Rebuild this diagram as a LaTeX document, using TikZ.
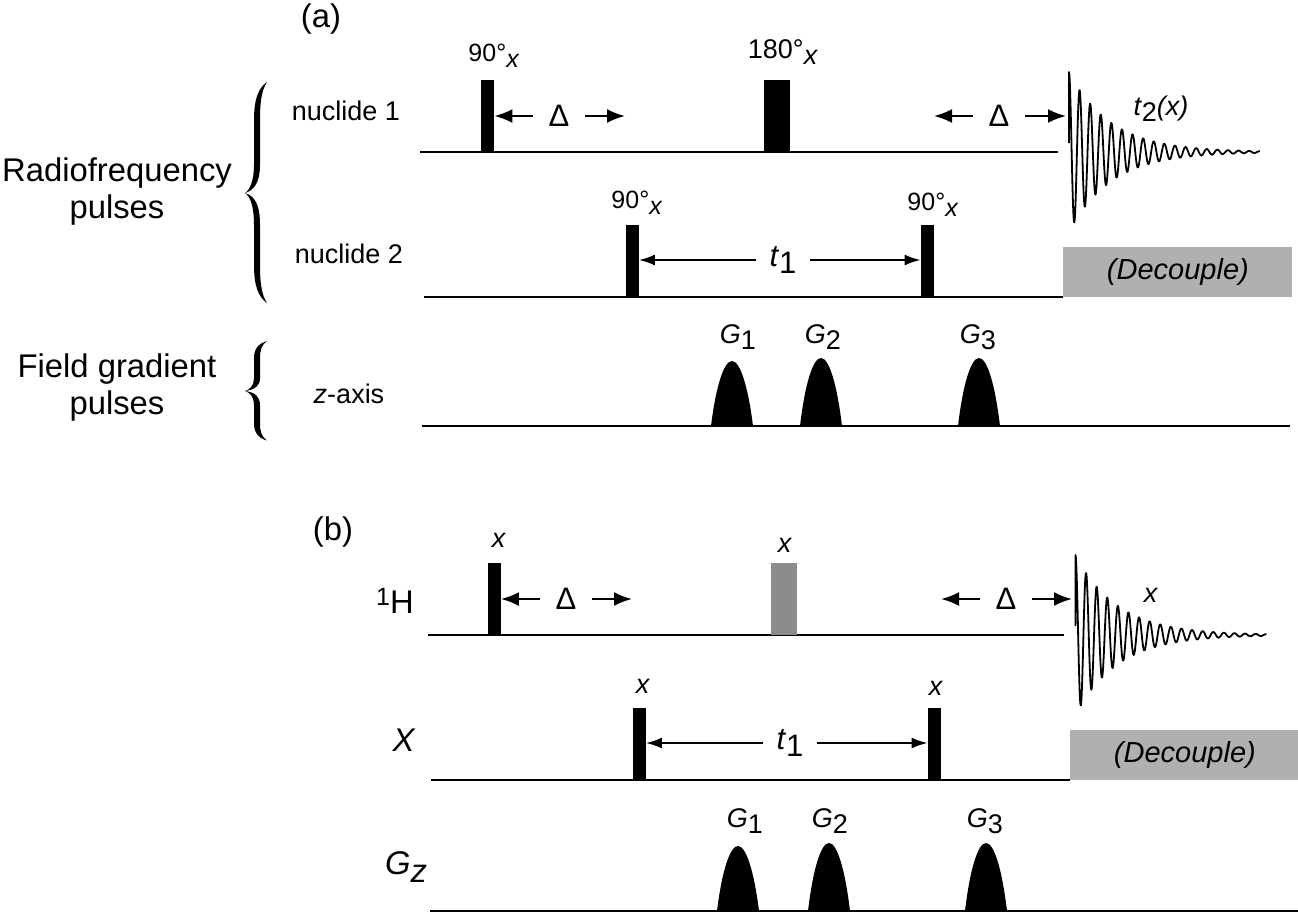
\documentclass[tikz,border=0pt]{standalone}
\definecolor{decgray}{RGB}{176, 176, 176}
\definecolor{pulsegray}{RGB}{140, 140, 140}
\usepackage{fontspec}
\setmainfont{Liberation Sans}
\usetikzlibrary{arrows.meta, positioning}
\newcommand{\dn}[1]{\raisebox{-0.42ex}{#1}}
\newcommand{\fidwave}[2]{
	\draw[line width=0.9pt, line join=round] (#1,#2-9) -- (#1,#2-80)
		-- plot[domain=0:191, samples=500] ({#1+\x}, {#2-80*exp(-\x/42)*cos(\x/10.6*360)});
}
\tikzset{
	baseln/.style={line width=1pt},
	pulse/.style={fill=black, inner sep=0pt, anchor=south, minimum width=6.5pt, minimum height=36pt},
	widepulse/.style={pulse, minimum width=13pt},
	arr/.style={-{Latex[length=9pt,width=7pt]}, line width=1.1pt},
	tarr/.style={-{Latex[length=8pt,width=5.5pt]}, line width=1pt},
	biglab/.style={font=\fontsize{16.4}{19}\selectfont, inner sep=0pt},
	midlab/.style={font=\fontsize{13.5}{16}\selectfont, inner sep=0pt},
	smalllab/.style={font=\fontsize{12.5}{15}\selectfont, inner sep=0pt},
	delta/.style={font=\fontsize{15.5}{18}\selectfont, inner ysep=0pt, inner xsep=7.5pt},
	tlab/.style={font=\fontsize{15.5}{18}\selectfont, inner ysep=0pt, inner xsep=6.5pt},
	decbox/.style={fill=decgray, inner sep=0pt, minimum width=114.5pt, minimum height=25pt, font=\fontsize{14.5}{17}\selectfont\itshape}
}
\begin{document}
\begin{tikzpicture}[x=0.5pt, y=-0.5pt]
	\useasboundingbox (0,0) rectangle (1298,912);
	\foreach \xa/\xb/\yy in {420/1058/152, 424/1063/297, 422/1290/426, 428/1064/635, 431/1070/780, 430/1298/911}{
		\draw[baseln] (\xa,\yy) -- (\xb,\yy);
	}
	\foreach \ymid/\sc in {193/1, 391/0.45}{
		\fill[shift={(0,\ymid)}, yscale=\sc] (267,-111) .. controls (258,-105) and (254,-93) .. (254,-73)
			-- (254,-28) .. controls (254,-13) and (250,-3) .. (245,0)
			.. controls (250,3) and (254,13) .. (254,32) -- (254,72)
			.. controls (254,92) and (258,104) .. (267,110)
			.. controls (262,102) and (260,92) .. (260,72) -- (260,32)
			.. controls (260,12) and (255,3) .. (245,0)
			.. controls (255,-3) and (260,-12) .. (260,-28) -- (260,-73)
			.. controls (260,-93) and (262,-103) .. (267,-111) -- cycle;
	}

	\node[biglab] (laba) at (321,19) {(a)};
	\node[biglab] (rf) at (117,173) {Radiofrequency};
	\node[biglab] (rfp) at (117,210) {pulses};
	\node[biglab] (fg) at (117,369) {Field gradient};
	\node[biglab] (fgp) at (117,406) {pulses};
	\node[midlab] (nuc1) at (346,111) {nuclide 1};
	\node[midlab] (nuc2) at (349,254) {nuclide 2};
	\node[midlab] (zax) at (349,394) {\textit{z}-axis};

	\node[pulse] (p1) at (487.5,152) {};
	\node[widepulse] (p2) at (777,152) {};
	\node[pulse] (p3) at (632,297) {};
	\node[pulse] (p4) at (927.5,297) {};
	\node[smalllab] at (494,56) {90°\dn{\textit{x}}};
	\node[midlab] at (783,52) {180°\dn{\textit{x}}};
	\node[smalllab] at (637,203) {90°\dn{\textit{x}}};
	\node[smalllab] at (933,205) {90°\dn{\textit{x}}};

	\node[delta] (d1) at (559,116) {Δ};
	\node[delta] (d2) at (999,116) {Δ};
	\coordinate (e1) at (625,116);
	\coordinate (e2) at (934,116);
	\coordinate (e3) at (1066,116);
	\draw[arr] (d1.west) -- (p1.east |- d1);
	\draw[arr] (d1.east) -- (e1);
	\draw[arr] (d2.west) -- (e2);
	\draw[arr] (d2.east) -- (e3);
	\node[tlab] (t1) at (783,260) {\textit{t}\dn{1}};
	\draw[tarr] (t1.west) -- (p3.east |- t1);
	\draw[tarr] (t1.east) -- (p4.west |- t1);

	\fidwave{1069}{152}
	\node[midlab] (t2) at (1161,109) {\textit{t}\dn{2}\textit{(x)}};
	\node[decbox, anchor=south west] (dec1) at (1063,297) {(Decouple)};

	\foreach \x/\h in {732/65, 821/68, 979/68}{
		\fill[shift={(\x,426)}] (-21,0) .. controls (-16,{-0.62*\h}) and (-8,-\h) .. (0,-\h)
			.. controls (8,-\h) and (16,{-0.62*\h}) .. (21,0) -- cycle;
	}
	\node[midlab] at (738,337) {\textit{G}\dn{1}};
	\node[midlab] at (823,337) {\textit{G}\dn{2}};
	\node[midlab] at (978,337) {\textit{G}\dn{3}};

	\node[biglab] (labb) at (333,532) {(b)};
	\node[biglab] (hlab) at (395,601) {\raisebox{0.5ex}{\fontsize{12.5}{15}\selectfont 1}H};
	\node[biglab] (xlab) at (404,740) {\textit{X}};
	\node[biglab] (gzlab) at (406,867) {\textit{G}\dn{\textit{z}}};

	\node[pulse] (q1) at (494,635) {};
	\node[widepulse, fill=pulsegray] (q2) at (783.5,635) {};
	\node[pulse] (q3) at (639,780) {};
	\node[pulse] (q4) at (934.5,780) {};
	\node[midlab] at (499,540) {\textit{x}};
	\node[midlab] at (785,545) {\textit{x}};
	\node[midlab] at (643,686) {\textit{x}};
	\node[midlab] at (936,688) {\textit{x}};

	\node[delta] (d3) at (566,599) {Δ};
	\node[delta] (d4) at (1006,599) {Δ};
	\coordinate (e4) at (632,599);
	\coordinate (e5) at (941,599);
	\coordinate (e6) at (1072,599);
	\draw[arr] (d3.west) -- (q1.east |- d3);
	\draw[arr] (d3.east) -- (e4);
	\draw[arr] (d4.west) -- (e5);
	\draw[arr] (d4.east) -- (e6);
	\node[tlab] (t3) at (790,743) {\textit{t}\dn{1}};
	\draw[tarr] (t3.west) -- (q3.east |- t3);
	\draw[tarr] (t3.east) -- (q4.west |- t3);

	\fidwave{1075.5}{635}
	\node[midlab] (xfid) at (1151,595) {\textit{x}};
	\node[decbox, anchor=south west] (dec2) at (1070,780) {(Decouple)};

	\foreach \x/\h in {738/65, 829/68, 986/68}{
		\fill[shift={(\x,911)}] (-21,0) .. controls (-16,{-0.62*\h}) and (-8,-\h) .. (0,-\h)
			.. controls (8,-\h) and (16,{-0.62*\h}) .. (21,0) -- cycle;
	}
	\node[midlab] at (745,821) {\textit{G}\dn{1}};
	\node[midlab] at (830,821) {\textit{G}\dn{2}};
	\node[midlab] at (985,821) {\textit{G}\dn{3}};
\end{tikzpicture}
\end{document}
